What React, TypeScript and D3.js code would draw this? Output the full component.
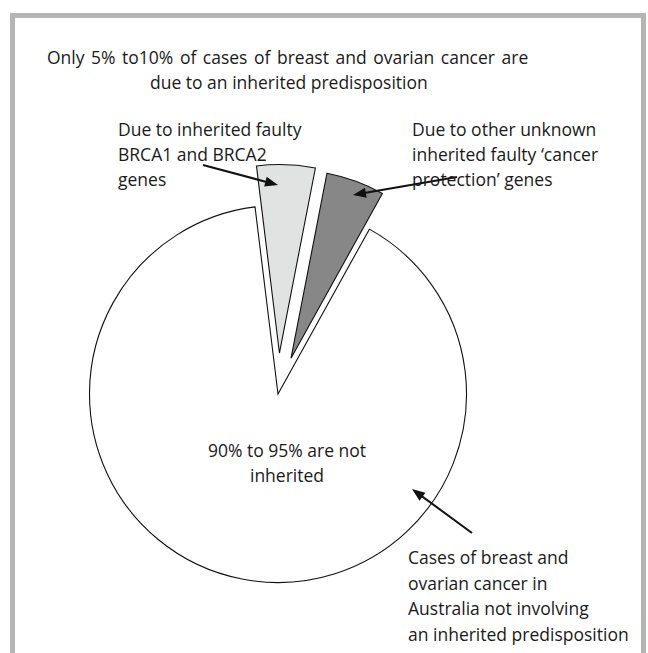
import React from "react";
import * as d3 from "d3";

const sliceLabels = ["BRCA1 and BRCA2", "Other inherited", "Not inherited"];
const sliceValues = [5, 5, 90];
const sliceFills = ["#e1e2e2", "#878787", "#ffffff"];
const sliceExplode = [41, 38, 0];

const titleLines = [
  "Only 5% to10% of cases of breast and ovarian cancer are",
  "due to an inherited predisposition",
];
const leftNote = ["Due to inherited faulty", "BRCA1 and BRCA2", "genes"];
const rightNote = ["Due to other unknown", "inherited faulty \u2018cancer", "protection\u2019 genes"];
const centreNote = ["90% to 95% are not", "inherited"];
const bottomNote = [
  "Cases of breast and",
  "ovarian cancer in",
  "Australia not involving",
  "an inherited predisposition",
];

const W = 648;
const H = 653;
const FONT = "'Open Sans', 'Noto Sans', sans-serif";

export default function App() {
  const cx = 278;
  const cy = 394;
  const r = 188.5;
  const deg = Math.PI / 180;
  const pie = d3
    .pie<number>()
    .sort(null)
    .value((d) => d)
    .startAngle(-7 * deg)
    .endAngle(353 * deg);
  const arcs = pie(sliceValues);
  const arcGen = d3.arc<d3.PieArcDatum<number>>().innerRadius(0).outerRadius(r);

  const arrows = [
    { x1: 203, y1: 165, x2: 278, y2: 185 },
    { x1: 457, y1: 177, x2: 353, y2: 195 },
    { x1: 472, y1: 533, x2: 412, y2: 489 },
  ];

  const head = (a: { x1: number; y1: number; x2: number; y2: number }) => {
    const ang = Math.atan2(a.y2 - a.y1, a.x2 - a.x1);
    const L = 13;
    const Wd = 5;
    const bx = a.x2 - L * Math.cos(ang);
    const by = a.y2 - L * Math.sin(ang);
    const px = -Math.sin(ang) * Wd;
    const py = Math.cos(ang) * Wd;
    return `M${a.x2},${a.y2}L${bx + px},${by + py}L${bx - px},${by - py}Z`;
  };

  const textStyle = { fontFamily: FONT, fontSize: 17.5, fill: "#1a1a1a" } as const;

  return (
    <svg
      width={W}
      height={H}
      style={{ position: "absolute", left: 0, top: 0 }}
      viewBox={`0 0 ${W} ${H}`}
    >
      <rect x={0} y={0} width={W} height={H} fill="#ffffff" />
      {/* frame */}
      <rect x={10} y={13} width={636} height={5} fill="#b4b6b3" />
      <rect x={10} y={13} width={5} height={H - 13} fill="#b4b6b3" />
      <rect x={641} y={13} width={5} height={H - 13} fill="#b4b6b3" />

      {/* pie */}
      {arcs.map((a, i) => {
        const mid = (a.startAngle + a.endAngle) / 2;
        const dx = Math.sin(mid) * sliceExplode[i];
        const dy = -Math.cos(mid) * sliceExplode[i];
        return (
          <path
            key={sliceLabels[i]}
            d={arcGen(a) || ""}
            transform={`translate(${cx + dx},${cy + dy})`}
            fill={sliceFills[i]}
            stroke="#111"
            strokeWidth={1.1}
            strokeLinejoin="miter"
          />
        );
      })}

      {/* arrows */}
      {arrows.map((a, i) => {
        const ang = Math.atan2(a.y2 - a.y1, a.x2 - a.x1);
        return (
          <g key={i}>
            <line
              x1={a.x1}
              y1={a.y1}
              x2={a.x2 - 10 * Math.cos(ang)}
              y2={a.y2 - 10 * Math.sin(ang)}
              stroke="#111"
              strokeWidth={2}
            />
            <path d={head(a)} fill="#111" />
          </g>
        );
      })}

      {/* title */}
      <text {...textStyle} x={47} y={64} wordSpacing={2}>
        {titleLines[0]}
      </text>
      <text {...textStyle} x={150} y={89}>
        {titleLines[1]}
      </text>

      {leftNote.map((t, i) => (
        <text key={t} {...textStyle} x={118} y={136 + i * 25}>
          {t}
        </text>
      ))}
      {rightNote.map((t, i) => (
        <text key={t} {...textStyle} x={412} y={136 + i * 25}>
          {t}
        </text>
      ))}
      {centreNote.map((t, i) => (
        <text key={t} {...textStyle} x={287} y={457 + i * 25} textAnchor="middle">
          {t}
        </text>
      ))}
      {bottomNote.map((t, i) => (
        <text key={t} {...textStyle} x={408} y={564 + i * 25.5}>
          {t}
        </text>
      ))}
    </svg>
  );
}
